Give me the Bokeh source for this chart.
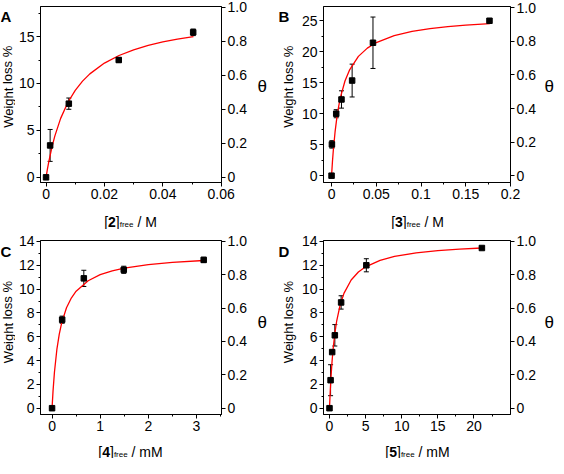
from bokeh.plotting import figure
from bokeh.layouts import column, row
from bokeh.models import (Range1d, LinearAxis, FixedTicker, CustomJSTickFormatter,
                          Whisker, TeeHead, ColumnDataSource)
from bokeh.core.properties import value
from bokeh.embed import file_html
from bokeh.resources import INLINE

FONT = "Liberation Sans"

# ---------------- Panel A ----------------
A_x = [0, 0.0014, 0.0078, 0.0249, 0.0504]
A_y = [0, 3.4, 7.85, 12.5, 15.45]
A_err = [0, 1.7, 0.6, 0.25, 0.35]
A_fit_x = [0, 0.0005, 0.001, 0.002, 0.003, 0.005, 0.0075, 0.01, 0.0125, 0.015,
           0.02, 0.025, 0.03, 0.035, 0.04, 0.045, 0.0505]
A_fit_y = [0, 0.92, 1.75, 3.19, 4.39, 6.28, 8.00, 9.27, 10.25, 11.02,
           12.17, 12.98, 13.58, 14.05, 14.42, 14.73, 14.99]
A_xticks = [0, 0.02, 0.04, 0.06]
A_xtick_labels = ["0", "0.02", "0.04", "0.06"]
A_xminor = [0.01, 0.03, 0.05]
A_yticks = [0, 5, 10, 15]
A_ytick_labels = ["0", "5", "10", "15"]
A_yminor = [2.5, 7.5, 12.5, 17.5]

# ---------------- Panel B ----------------
B_x = [0, 0.0004, 0.0052, 0.0111, 0.023, 0.0463, 0.1765]
B_y = [0, 5.05, 10.0, 12.3, 15.35, 21.45, 25.0]
B_err = [0, 0.6, 0.65, 1.4, 2.65, 4.15, 0.2]
B_fit_x = [0, 0.001, 0.002, 0.004, 0.006, 0.008, 0.01, 0.015, 0.02, 0.03, 0.04,
           0.05, 0.07, 0.09, 0.11, 0.13, 0.15, 0.177]
B_fit_y = [0, 2.26, 4.15, 7.16, 9.44, 11.23, 12.67, 15.28, 17.03, 19.25, 20.58,
           21.48, 22.60, 23.28, 23.73, 24.05, 24.30, 24.54]
B_xticks = [0, 0.05, 0.1, 0.15, 0.2]
B_xtick_labels = ["0", "0.05", "0.1", "0.15", "0.2"]
B_xminor = [0.025, 0.075, 0.125, 0.175]
B_yticks = [0, 5, 10, 15, 20, 25]
B_ytick_labels = ["0", "5", "10", "15", "20", "25"]
B_yminor = [2.5, 7.5, 12.5, 17.5, 22.5]

# ---------------- Panel C ----------------
C_x = [0, 0.21, 0.66, 1.49, 3.15]
C_y = [0, 7.43, 10.9, 11.62, 12.45]
C_err = [0, 0.3, 0.68, 0.3, 0.22]
C_fit_x = [0, 0.02, 0.05, 0.1, 0.15, 0.2, 0.3, 0.4, 0.5, 0.75, 1.0, 1.25, 1.5,
           2.0, 2.5, 3.15]
C_fit_y = [0, 1.41, 3.04, 4.93, 6.22, 7.16, 8.43, 9.25, 9.82, 10.70, 11.21,
           11.53, 11.76, 12.06, 12.24, 12.40]
C_xticks = [0, 1, 2, 3]
C_xtick_labels = ["0", "1", "2", "3"]
C_xminor = [0.5, 1.5, 2.5, 3.5]
C_yticks = [0, 2, 4, 6, 8, 10, 12, 14]
C_ytick_labels = ["0", "2", "4", "6", "8", "10", "12", "14"]
C_yminor = [1, 3, 5, 7, 9, 11, 13]

# ---------------- Panel D ----------------
D_x = [0, 0.15, 0.37, 0.74, 1.61, 5.1, 21.1]
D_y = [0, 2.35, 4.71, 6.12, 8.88, 12.0, 13.45]
D_err = [0, 1.3, 0.1, 0.9, 0.56, 0.55, 0.1]
D_fit_x = [0, 0.1, 0.2, 0.35, 0.5, 0.75, 1.0, 1.5, 2, 3, 4, 5, 7, 9, 12, 15,
           18, 21.1]
D_fit_y = [0, 1.39, 2.52, 3.89, 4.97, 6.33, 7.34, 8.73, 9.64, 10.76, 11.43,
           11.87, 12.41, 12.74, 13.04, 13.23, 13.35, 13.45]
D_xticks = [0, 5, 10, 15, 20]
D_xtick_labels = ["0", "5", "10", "15", "20"]
D_xminor = [2.5, 7.5, 12.5, 17.5, 22.5]
D_yticks = C_yticks
D_ytick_labels = C_ytick_labels
D_yminor = C_yminor

theta_ticks = [0, 0.2, 0.4, 0.6, 0.8, 1.0]
theta_tick_labels = ["0", "0.2", "0.4", "0.6", "0.8", "1.0"]

y_title = "Weight loss %"
theta_title = "θ"

# Arial / Liberation Sans advance widths (em)
CW = {"[": 0.278, "]": 0.278, "f": 0.278, "r": 0.333, "e": 0.556, " ": 0.278,
      "/": 0.278, "M": 0.833, "m": 0.833}
TS = 14  # tick / title text size (px)
YS = 13  # y-title size (px)


def twidth(s, size):
    return sum(CW.get(ch, 0.556) for ch in s) * size


def fmt(tv, tl):
    return CustomJSTickFormatter(args=dict(tv=tv, tl=tl), code="""
        for (let i = 0; i < tv.length; i++) {
            if (Math.abs(tv[i] - tick) < 1e-7) { return tl[i]; }
        }
        return "";
    """)


def style_axis(ax):
    ax.axis_line_color = "black"
    ax.axis_line_width = 1
    ax.major_tick_line_color = "black"
    ax.minor_tick_line_color = "black"
    ax.major_tick_out = 4
    ax.major_tick_in = 0
    ax.minor_tick_out = 2
    ax.minor_tick_in = 0
    ax.major_label_text_font = FONT
    ax.major_label_text_font_size = f"{TS}px"
    ax.major_label_text_color = "black"
    ax.major_label_standoff = 2


def strip(w, h):
    s = figure(width=w, height=h, x_range=Range1d(0, w), y_range=Range1d(0, h),
               output_backend="svg", toolbar_location=None,
               x_axis_location=None, y_axis_location=None, min_border=0)
    s.outline_line_color = None
    s.grid.visible = False
    s.background_fill_color = "white"
    s.border_fill_color = "white"
    return s


def put(s, x, y, t, size, style="normal", align="left", baseline="alphabetic", angle=0.0):
    s.text(x=[x], y=[y], text=[t], text_font=value(FONT), text_font_size=f"{size}px",
           text_font_style=style, text_align=align, text_baseline=baseline,
           angle=angle, text_color="black")


def panel(letter, num, unit, xs, ys, errs, fx, fy, xr, yr, tr,
          xt, xtl, xm, yt, ytl, ym,
          wl, ycx, wr, thx, bl, fw, br, bt, fh, bb, hb, letter_base, title_base):
    wm = bl + fw + br
    hm = bt + fh + bb
    p = figure(width=wm, height=hm, x_range=Range1d(*xr), y_range=Range1d(*yr),
               output_backend="svg", toolbar_location=None,
               min_border_left=bl, min_border_right=br,
               min_border_top=bt, min_border_bottom=bb)
    p.extra_y_ranges = {"theta": Range1d(*tr)}
    p.grid.visible = False
    p.outline_line_color = "black"
    p.outline_line_width = 1
    p.background_fill_color = "white"
    p.border_fill_color = "white"

    xa = p.xaxis[0]
    xa.ticker = FixedTicker(ticks=xt, minor_ticks=xm)
    xa.formatter = fmt(xt, xtl)
    style_axis(xa)

    ya = p.yaxis[0]
    ya.ticker = FixedTicker(ticks=yt, minor_ticks=ym)
    ya.formatter = fmt(yt, ytl)
    style_axis(ya)

    ra = LinearAxis(y_range_name="theta",
                    ticker=FixedTicker(ticks=theta_ticks, minor_ticks=[]),
                    formatter=fmt(theta_ticks, theta_tick_labels))
    style_axis(ra)
    p.add_layout(ra, "right")

    p.line(fx, fy, line_color="#ff0000", line_width=1.3)

    src = ColumnDataSource(dict(x=xs, y=ys,
                                up=[a + b for a, b in zip(ys, errs)],
                                lo=[a - b for a, b in zip(ys, errs)]))
    p.add_layout(Whisker(source=src, base="x", upper="up", lower="lo",
                         line_color="black", line_width=1,
                         upper_head=TeeHead(size=5, line_color="black", line_width=1),
                         lower_head=TeeHead(size=5, line_color="black", line_width=1)))
    p.scatter("x", "y", source=src, marker="square", size=5.5, color="black")

    # left strip: panel letter + rotated y title
    L = strip(wl, hm)
    put(L, 0, hm - letter_base, letter, 15, style="bold")
    put(L, ycx, hm - (bt + fh / 2), y_title, YS, align="center",
        baseline="middle", angle=1.5708)

    # right strip: theta
    R = strip(wr, hm)
    put(R, thx, hm - (bt + fh / 2), theta_title, 17, baseline="middle")

    # bottom strip: [n]free / unit
    wtot = wl + wm + wr
    B = strip(wtot, hb)
    space = 0.278 * TS
    pieces = [("[", TS, "normal", 0), (num, TS, "bold", 0), ("]", TS, "normal", 0),
              ("free", 8, "normal", 3), ("/ " + unit, TS, "normal", 0)]
    widths = [twidth(t, s) for t, s, _, _ in pieces]
    total = sum(widths) + space
    cx = wl + bl + fw / 2 - total / 2
    for (t, s, st, dy), w in zip(pieces, widths):
        if t.startswith("/"):
            cx += space
        put(B, cx, hb - title_base - dy, t, s, style=st)
        cx += w

    return column(row(L, p, R), B)


pA = panel("A", "2", "M", A_x, A_y, A_err, A_fit_x, A_fit_y,
           (-0.0019, 0.0601), (-0.55, 18.2), (-0.0304, 1.0055),
           A_xticks, A_xtick_labels, A_xminor, A_yticks, A_ytick_labels, A_yminor,
           15, 7.5, 29, 8, 23, 184, 27, 6, 176, 24, 23, 12, 15)
pB = panel("B", "3", "M", B_x, B_y, B_err, B_fit_x, B_fit_y,
           (-0.009, 0.2), (-1.1, 27.3), (-0.0406, 1.008),
           B_xticks, B_xtick_labels, B_xminor, B_yticks, B_ytick_labels, B_yminor,
           20, 10, 18, 6, 25, 188, 27, 6, 176, 24, 23, 12, 15)
pC = panel("C", "4", "mM", C_x, C_y, C_err, C_fit_x, C_fit_y,
           (-0.24, 3.52), (-0.53, 14.08), (-0.0379, 1.0057),
           C_xticks, C_xtick_labels, C_xminor, C_yticks, C_ytick_labels, C_yminor,
           15, 7.5, 29, 8, 23, 184, 27, 11, 174, 24, 20, 13, 13)
pD = panel("D", "5", "mM", D_x, D_y, D_err, D_fit_x, D_fit_y,
           (-0.83, 25.06), (-0.53, 14.08), (-0.0379, 1.0057),
           D_xticks, D_xtick_labels, D_xminor, D_yticks, D_ytick_labels, D_yminor,
           20, 10, 18, 6, 25, 188, 27, 11, 174, 24, 20, 13, 13)

layout = column(row(pA, pB), row(pC, pD))
open("out.html", "w").write(file_html(layout, INLINE))
